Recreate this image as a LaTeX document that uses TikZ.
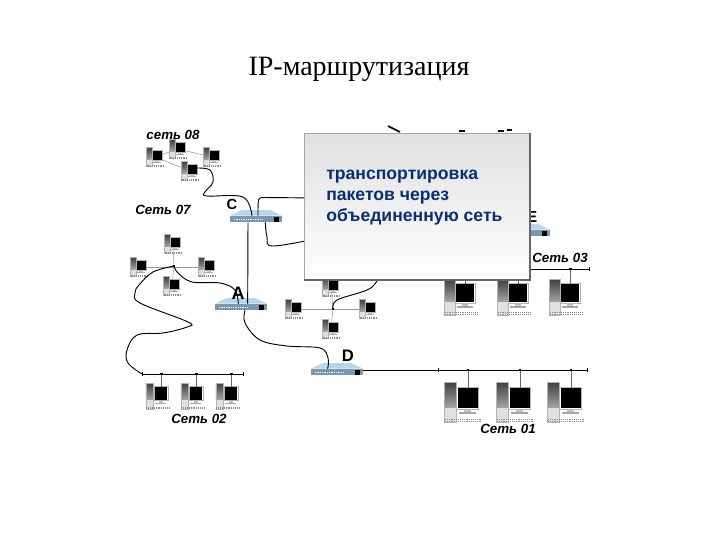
\documentclass[tikz,border=0pt]{standalone}
\usepackage{fontspec}
\setmainfont{Liberation Serif}
\setsansfont{Liberation Sans}
\usetikzlibrary{calc}
\definecolor{panelblue}{RGB}{10,45,115}
\definecolor{routertop}{RGB}{186,214,230}
\definecolor{routerfront}{RGB}{118,152,178}
\tikzset{
	compic/.pic={
		\shade[top color=black!75,bottom color=black!35] (-18.5,-20) rectangle (-7,6);
		\fill[black!12] (-18.5,6) rectangle (-7,20);
		\draw[black!30,line width=.3pt] (-18.5,-20) rectangle (-7,20);
		\fill[black] (-5.5,-14) rectangle (14.5,6);
		\draw[black!30,line width=.3pt] (-6.5,-15) rectangle (15.5,7);
		\fill[black!25] (1,7) rectangle (8,10);
		\fill[black!35] (-4,10) rectangle (13,12);
		\draw[black!45,densely dotted] (-18,17)--(18.5,17);
		\draw[black!45,densely dotted] (-18,19.5)--(18.5,19.5);
		\coordinate (top) at (5,-14);
	},
	routerpic/.pic={
		\node[rectangle,fill=routerfront,minimum width=39pt,minimum height=4.5pt,inner sep=0pt] (box) at (0,3) {};
		\fill[routertop] (box.north west)--(-14,-6)--(14,-6)--(box.north east)--cycle;
		\fill[black] (18,0.5) rectangle (23,5.5);
		\draw[white,densely dotted,line width=.3pt] (-22,3)--(6,3);
	},
	cable/.style={black,line width=.7pt},
	thinlink/.style={black!40,line width=.4pt},
	busline/.style={black,line width=.6pt},
	netlabel/.style={font=\sffamily\bfseries\itshape\fontsize{10}{12}\selectfont,inner sep=0pt},
	routerlabel/.style={inner sep=0pt},
	stubdot/.style={rectangle,fill=black,minimum size=2pt,inner sep=0pt},
	endtick/.style={rectangle,fill=black,minimum width=.6pt,minimum height=3.5pt,inner sep=0pt},
}
\begin{document}
\begin{tikzpicture}[x=.75pt,y=-.75pt]
	\useasboundingbox (0,0) rectangle (720,540);
	\node[font=\fontsize{21}{24}\selectfont,inner sep=0pt] (title) at (359,69) {IP-маршрутизация};

	\node[netlabel] (net08) at (173,135) {сеть 08};
	\node[netlabel] (net07) at (163,210) {Сеть 07};
	\node[netlabel] (net03) at (560,258) {Сеть 03};
	\node[netlabel] (net02) at (199,419) {Сеть 02};
	\node[netlabel] (net01) at (508,429) {Сеть 01};

	\draw[thinlink] (155,157)--(178,149)--(212,157);
	\draw[thinlink] (155,157)--(190,171);
	\coordinate (hub07) at (174,266);
	\coordinate (hubmid) at (333,309);
	\draw[thinlink] (173,244)--(hub07)--(172,286);
	\draw[thinlink] (139,267)--(207,267);
	\draw[thinlink] (331,287)--(hubmid)--(331,329);
	\draw[thinlink] (294,309)--(368,309);

	\pic[scale=.47] (pc08a) at (155,157) {compic};
	\pic[scale=.47] (pc08b) at (178,149) {compic};
	\pic[scale=.47] (pc08c) at (212,157) {compic};
	\pic[scale=.47] (pc08d) at (190,171) {compic};
	\pic[scale=.47] (pc07a) at (173,244) {compic};
	\pic[scale=.47] (pc07b) at (139,267) {compic};
	\pic[scale=.47] (pc07c) at (207,267) {compic};
	\pic[scale=.47] (pc07d) at (172,286) {compic};
	\pic[scale=.47] (pcmida) at (331,287) {compic};
	\pic[scale=.47] (pcmidb) at (294,309) {compic};
	\pic[scale=.47] (pcmidc) at (368,309) {compic};
	\pic[scale=.47] (pcmidd) at (331,329) {compic};
	\pic[scale=.65] (pc02a) at (158,396) {compic};
	\pic[scale=.65] (pc02b) at (193,396) {compic};
	\pic[scale=.65] (pc02c) at (228,396) {compic};
	\pic[scale=.9] (pc03a) at (461,297) {compic};
	\pic[scale=.9] (pc03b) at (514,297) {compic};
	\pic[scale=.9] (pc03c) at (566,297) {compic};
	\pic (pc01a) at (463,402) {compic};
	\pic (pc01b) at (515,402) {compic};
	\pic (pc01c) at (566,402) {compic};

	\pic (rC) at (256,216) {routerpic};
	\pic (rA) at (241,304) {routerpic};
	\pic (rD) at (337,369) {routerpic};
	\pic (rE) at (524,230) {routerpic};
	\node[routerlabel,font=\sffamily\bfseries\fontsize{11}{12}\selectfont] (labC) at (232,204) {C};
	\node[routerlabel,font=\sffamily\bfseries\fontsize{13.5}{14}\selectfont] (labA) at (238,293) {A};
	\node[routerlabel,font=\sffamily\bfseries\fontsize{12.5}{14}\selectfont] (labD) at (348,356) {D};
	\node[routerlabel,font=\sffamily\bfseries\fontsize{12}{14}\selectfont] (labE) at (532,217) {E};

	\coordinate (bus02w) at (142,374);
	\coordinate (bus02e) at (243,374);
	\coordinate (bus01w) at (438,370);
	\coordinate (bus01e) at (587,370);
	\coordinate (bus03w) at (500,269);
	\coordinate (bus03e) at (589,269);
	\draw[busline] (bus02w)--(bus02e);
	\draw[busline] (bus01w)--(bus01e);
	\draw[busline] (bus03w)--(bus03e);
	\foreach \bus/\pc in {bus02w/pc02a,bus02w/pc02b,bus02w/pc02c,bus01w/pc01a,bus01w/pc01b,bus01w/pc01c,bus03w/pc03a,bus03w/pc03b,bus03w/pc03c}{
		\draw[black!60,line width=.5pt] (\pc top)--(\pc top |- \bus);
		\node[stubdot] at (\pc top |- \bus) {};
	}
	\foreach \busend in {bus02w,bus02e,bus01w,bus01e,bus03e}{
		\node[endtick] at (\busend) {};
	}
	\node[stubdot] at (hub07) {};
	\node[stubdot] at (hubmid) {};

	\coordinate (panelCa) at (320,198);
	\coordinate (panelCb) at (320,238);
	\coordinate (panelmid) at (384,268);
	\coordinate (panelE) at (515,245);

	\draw[cable] plot[smooth,tension=.6] coordinates {(197,168) (210,170) (213,182) (205,192) (207,196) (243,197) ([xshift=-3pt]rCbox.north)};
	\draw[cable] ([xshift=1.5pt]rCbox.north) .. controls (258,196) and (258,198) .. (264,197.500)--(panelCa);
	\draw[cable] plot[smooth,tension=.6] coordinates {([xshift=7pt]rCbox.south) (267,237) (273,246) (panelCb)};
	\draw[cable] ([xshift=-6pt]rCbox.south)--([xshift=5pt]rAbox.north);
	\draw[cable] plot[smooth,tension=.6] coordinates {(hub07) (178,273) (192,282) (220,283) (235,290) ([xshift=-2pt]rAbox.north)};
	\draw[cable] plot[smooth,tension=.6] coordinates {(hub07) (153,272) (139,285) (135,293) (140,303) (188,322) (187,327) (163,333) (137,335) (127,350) (128,363) (bus02w)};
	\draw[cable] plot[smooth,tension=.6] coordinates {([xshift=3pt]rAbox.south) (245,323) (260,340) (287,346) (320,348) (328,358) ([xshift=-7pt]rDbox.north)};
	\draw[cable] (rDbox.east |- bus01w)--(bus01w);
	\draw[cable] plot[smooth,tension=.6] coordinates {(hubmid) (337,300) (367,290) (377,281) (panelmid)};
	\draw[cable] (rEbox.south)--(panelE);

	\draw[line width=1.2pt] (388,126)--(400,132);
	\draw[line width=1pt] (459,131)--(465,131);
	\draw[line width=1pt] (498,131)--(504,131);
	\draw[line width=1pt] (507,130)--(512,130);

	\shade[top color=black!12,middle color=black!2,bottom color=white,draw=black!35,line width=.5pt] (304,133) rectangle (530,280);
	\draw[black!60,line width=1.2pt] (530,133)--(530,280)--(304,280);
	\node[anchor=north west,inner sep=0pt,align=left,text=panelblue,font=\sffamily\bfseries\fontsize{13.2}{15.75}\selectfont] (panel) at (326,170) {транспортировка\\пакетов через\\объединенную сеть};
\end{tikzpicture}
\end{document}
